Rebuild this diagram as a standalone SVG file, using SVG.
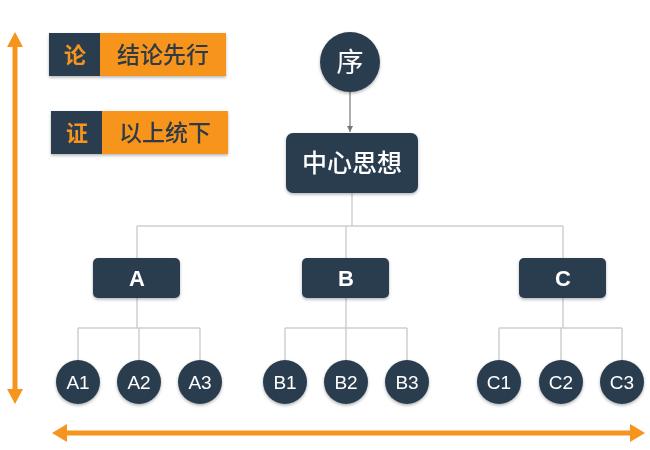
<svg xmlns="http://www.w3.org/2000/svg" width="650" height="450" viewBox="0 0 650 450">
<style>
.dk{fill:#2c3e50}
.or{fill:#f7941e}
.ln{stroke:#cfcfcf;stroke-width:1.5;fill:none}
.ct{font-family:"Helvetica Neue","Liberation Sans",Arial,sans-serif;font-size:19px;font-weight:300;fill:#ffffff;text-anchor:middle}
.bt{font-family:"Liberation Sans",Arial,sans-serif;font-size:22px;font-weight:bold;fill:#ffffff;text-anchor:middle}
.cj{font-family:"Noto Sans CJK SC","Noto Sans",sans-serif;text-anchor:middle}
</style>
<defs>
<filter id="sh" x="-20%" y="-20%" width="140%" height="150%">
<feDropShadow dx="0" dy="1.5" stdDeviation="1.5" flood-color="#000" flood-opacity="0.3"/>
</filter>
<marker id="ah" markerWidth="8" markerHeight="8" refX="6" refY="4" orient="auto" markerUnits="userSpaceOnUse">
<path d="M0,1 L6,4 L0,7 Z" fill="#777"/>
</marker>
</defs>
<rect width="650" height="450" fill="#ffffff"/>

<g id="axes">
<line x1="15" y1="46" x2="15" y2="390" stroke="#f7941e" stroke-width="5"/>
<polygon points="15,32 7,47 23,47" class="or"/>
<polygon points="15,404 7,389 23,389" class="or"/>
<line x1="66" y1="433" x2="630" y2="433" stroke="#f7941e" stroke-width="5"/>
<polygon points="52,433 67,424 67,442" class="or"/>
<polygon points="645,433 630,424 630,442" class="or"/>
</g>

<g id="legend1" filter="url(#sh)">
<rect x="49" y="33" width="51" height="43" class="dk"/>
<rect x="100" y="33" width="126" height="43" class="or"/>
<text x="75" y="63" class="cj" font-size="22" font-weight="bold" fill="#f7941e">论</text>
<text x="163" y="63" class="cj" font-size="23" font-weight="500" fill="#2e3a46">结论先行</text>
</g>
<g id="legend2" filter="url(#sh)">
<rect x="51" y="111" width="51" height="43" class="dk"/>
<rect x="102" y="111" width="126" height="43" class="or"/>
<text x="77" y="141" class="cj" font-size="22" font-weight="bold" fill="#f7941e">证</text>
<text x="165" y="141" class="cj" font-size="23" font-weight="500" fill="#2e3a46">以上统下</text>
</g>

<g id="connectors">
<line x1="350" y1="92" x2="350" y2="132" stroke="#777" stroke-width="1.2" marker-end="url(#ah)"/>
<path class="ln" d="M352,193 V226 M137,226 H563 M137,226 V258 M346,226 V258 M563,226 V258"/>
<path class="ln" d="M137,298 V328 M78,328 H200 M78,328 V360 M139,328 V360 M200,328 V360"/>
<path class="ln" d="M346,298 V328 M285,328 H407 M285,328 V360 M346,328 V360 M407,328 V360"/>
<path class="ln" d="M563,298 V328 M499,328 H622 M499,328 V360 M561,328 V360 M622,328 V360"/>
</g>

<g id="xu" filter="url(#sh)">
<circle cx="350" cy="62" r="30" class="dk"/>
<text x="350" y="72" class="cj" font-size="27" fill="#ffffff">序</text>
</g>
<g id="center" filter="url(#sh)">
<rect x="286" y="133" width="132" height="60" rx="7" class="dk"/>
<text x="352" y="172" class="cj" font-size="25" font-weight="500" fill="#ffffff">中心思想</text>
</g>

<g id="A" filter="url(#sh)">
<rect x="93" y="258" width="87" height="40" rx="5" class="dk"/>
<text x="137" y="286" class="bt">A</text>
</g>
<g id="B" filter="url(#sh)">
<rect x="302" y="258" width="87" height="40" rx="5" class="dk"/>
<text x="346" y="286" class="bt">B</text>
</g>
<g id="C" filter="url(#sh)">
<rect x="519" y="258" width="87" height="40" rx="5" class="dk"/>
<text x="563" y="286" class="bt">C</text>
</g>

<g id="A1" filter="url(#sh)"><circle cx="78" cy="382" r="22" class="dk"/><text x="78" y="389" class="ct">A1</text></g>
<g id="A2" filter="url(#sh)"><circle cx="139" cy="382" r="22" class="dk"/><text x="139" y="389" class="ct">A2</text></g>
<g id="A3" filter="url(#sh)"><circle cx="200" cy="382" r="22" class="dk"/><text x="200" y="389" class="ct">A3</text></g>
<g id="B1" filter="url(#sh)"><circle cx="285" cy="382" r="22" class="dk"/><text x="285" y="389" class="ct">B1</text></g>
<g id="B2" filter="url(#sh)"><circle cx="346" cy="382" r="22" class="dk"/><text x="346" y="389" class="ct">B2</text></g>
<g id="B3" filter="url(#sh)"><circle cx="407" cy="382" r="22" class="dk"/><text x="407" y="389" class="ct">B3</text></g>
<g id="C1" filter="url(#sh)"><circle cx="499" cy="382" r="22" class="dk"/><text x="499" y="389" class="ct">C1</text></g>
<g id="C2" filter="url(#sh)"><circle cx="561" cy="382" r="22" class="dk"/><text x="561" y="389" class="ct">C2</text></g>
<g id="C3" filter="url(#sh)"><circle cx="622" cy="382" r="22" class="dk"/><text x="622" y="389" class="ct">C3</text></g>
</svg>
